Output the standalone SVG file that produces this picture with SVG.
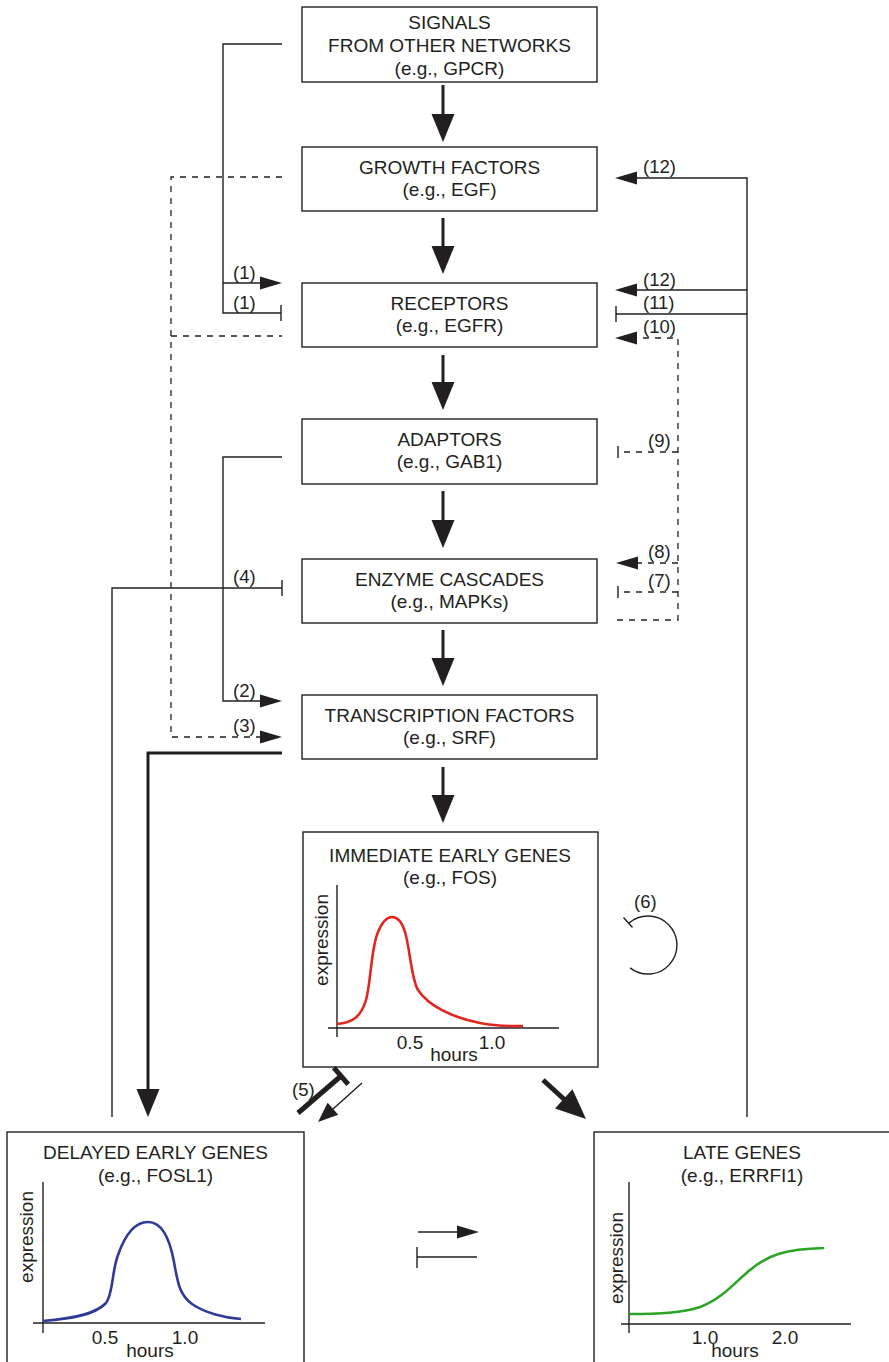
<svg xmlns="http://www.w3.org/2000/svg" xmlns:xlink="http://www.w3.org/1999/xlink" width="889" height="1362" viewBox="0 0 889 1362">
  <style>
    text { font-family: "Liberation Sans", Arial, sans-serif; fill: #231f20; }
    .t { font-size: 19px; text-anchor: middle; }
    .lbl { font-size: 18.5px; }
    .ax { font-size: 19px; text-anchor: middle; }
    .box { fill: #ffffff; stroke: #231f20; stroke-width: 1.4; }
    .ln { fill: none; stroke: #231f20; stroke-width: 1.4; }
    .dash { fill: none; stroke: #231f20; stroke-width: 1.3; stroke-dasharray: 6 6; }
    .thick { fill: none; stroke: #231f20; stroke-width: 3; }
    .heavy { fill: none; stroke: #231f20; stroke-width: 5; }
    .axis { fill: none; stroke: #231f20; stroke-width: 1.4; }
    .head { fill: #231f20; stroke: none; }
  </style>
  <defs>
    <!-- arrowheads pointing along +x with the tip at the origin -->
    <path id="headS" d="M0,0 L-22,-6.5 L-22,6.5 Z"/>
    <path id="headM" d="M0,0 L-20,-8 L-20,8 Z"/>
    <path id="headL" d="M0,0 L-28,-11.5 L-28,11.5 Z"/>
    <path id="headXL" d="M0,0 L-30,-13 L-30,13 Z"/>
  </defs>

  <!-- main cascade nodes -->
  <g id="node-signals">
    <rect class="box" x="302" y="7" width="295" height="75"/>
    <text class="t" x="449.5" y="29">SIGNALS</text>
    <text class="t" x="449.5" y="52">FROM OTHER NETWORKS</text>
    <text class="t" x="449.5" y="75">(e.g., GPCR)</text>
  </g>
  <g id="node-growth-factors">
    <rect class="box" x="302" y="147" width="295" height="64"/>
    <text class="t" x="449.5" y="173.5">GROWTH FACTORS</text>
    <text class="t" x="449.5" y="196">(e.g., EGF)</text>
  </g>
  <g id="node-receptors">
    <rect class="box" x="302" y="283" width="295" height="64"/>
    <text class="t" x="449.5" y="309.5">RECEPTORS</text>
    <text class="t" x="449.5" y="332">(e.g., EGFR)</text>
  </g>
  <g id="node-adaptors">
    <rect class="box" x="302" y="419" width="295" height="65"/>
    <text class="t" x="449.5" y="445.5">ADAPTORS</text>
    <text class="t" x="449.5" y="468">(e.g., GAB1)</text>
  </g>
  <g id="node-enzyme-cascades">
    <rect class="box" x="302" y="559" width="295" height="64"/>
    <text class="t" x="449.5" y="585.5">ENZYME CASCADES</text>
    <text class="t" x="449.5" y="608">(e.g., MAPKs)</text>
  </g>
  <g id="node-transcription-factors">
    <rect class="box" x="302" y="695" width="295" height="64"/>
    <text class="t" x="449.5" y="721.5">TRANSCRIPTION FACTORS</text>
    <text class="t" x="449.5" y="744">(e.g., SRF)</text>
  </g>

  <!-- immediate early genes with expression profile -->
  <g id="node-immediate-early-genes">
    <rect class="box" x="303" y="832" width="295" height="235"/>
    <text class="t" x="450" y="862">IMMEDIATE EARLY GENES</text>
    <text class="t" x="450" y="884">(e.g., FOS)</text>
    <path class="axis" d="M337,885 V1037 M328,1028 H559"/>
    <text class="ax" x="410" y="1049">0.5</text>
    <text class="ax" x="492" y="1049">1.0</text>
    <text class="ax" x="454" y="1061">hours</text>
    <text class="ax" transform="translate(328,940) rotate(-90)">expression</text>
    <path fill="none" stroke="#e0261f" stroke-width="2.6" d="M337,1024 C352,1023 361,1017 366,1000 C371,982 371,948 378,932 C383,920 388,917 392,917 C397,917 402,922 405,932 C410,948 411,978 418,990 C428,1005 450,1017 480,1023 C500,1027 515,1026 523,1026"/>
  </g>

  <!-- delayed early genes with expression profile -->
  <g id="node-delayed-early-genes">
    <rect class="box" x="7" y="1132" width="297" height="240"/>
    <text class="t" x="155.5" y="1159">DELAYED EARLY GENES</text>
    <text class="t" x="155.5" y="1182">(e.g., FOSL1)</text>
    <path class="axis" d="M43,1182 V1333 M33,1323 H265"/>
    <text class="ax" x="105" y="1344">0.5</text>
    <text class="ax" x="185" y="1344">1.0</text>
    <text class="ax" x="150" y="1357">hours</text>
    <text class="ax" transform="translate(33,1237) rotate(-90)">expression</text>
    <path fill="none" stroke="#2e3a97" stroke-width="2.6" d="M43,1321 C70,1319 95,1315 106,1303 C113,1295 112,1270 118,1255 C125,1235 135,1222 148,1222 C162,1222 170,1240 174,1262 C178,1285 180,1295 192,1304 C205,1313 225,1318 241,1319"/>
  </g>

  <!-- late genes with expression profile -->
  <g id="node-late-genes">
    <rect class="box" x="594" y="1132" width="310" height="240"/>
    <text class="t" x="742" y="1159">LATE GENES</text>
    <text class="t" x="742" y="1182">(e.g., ERRFI1)</text>
    <path class="axis" d="M629,1182 V1333 M621,1324 H851"/>
    <text class="ax" x="705" y="1344">1.0</text>
    <text class="ax" x="785" y="1344">2.0</text>
    <text class="ax" x="735" y="1357">hours</text>
    <text class="ax" transform="translate(623,1258) rotate(-90)">expression</text>
    <path fill="none" stroke="#2aa524" stroke-width="2.6" d="M629,1314 C660,1314 682,1313 700,1307 C722,1299 735,1282 750,1270 C768,1255 785,1249 824,1248"/>
  </g>

  <!-- connectors -->
  <g id="connectors">
    <!-- main downward cascade -->
    <path class="thick" d="M443,85 V115"/>
    <use href="#headL" class="head" transform="translate(443,142) rotate(90)"/>
    <path class="thick" d="M443,218 V247"/>
    <use href="#headL" class="head" transform="translate(443,274) rotate(90)"/>
    <path class="thick" d="M443,355 V383"/>
    <use href="#headL" class="head" transform="translate(443,410) rotate(90)"/>
    <path class="thick" d="M443,491 V521"/>
    <use href="#headL" class="head" transform="translate(443,548) rotate(90)"/>
    <path class="thick" d="M443,630 V659"/>
    <use href="#headL" class="head" transform="translate(443,686) rotate(90)"/>
    <path class="thick" d="M443,767 V796"/>
    <use href="#headL" class="head" transform="translate(443,823) rotate(90)"/>

    <!-- (1) signals from other networks onto receptors -->
    <path class="ln" d="M282,44 H223 V313 H281 M223,283 H261"/>
    <use href="#headS" class="head" transform="translate(282,283)"/>
    <path class="ln" d="M281,305 V321"/>
    <text class="lbl" x="233" y="279">(1)</text>
    <text class="lbl" x="233" y="309">(1)</text>

    <!-- (3) growth factors / receptors onto transcription factors -->
    <path class="dash" d="M282,177 H171 V737 H261 M171,336 H282"/>
    <use href="#headS" class="head" transform="translate(282,737)"/>
    <text class="lbl" x="233" y="732">(3)</text>

    <!-- (2) adaptors onto transcription factors -->
    <path class="ln" d="M282,457 H223 V701 H261"/>
    <use href="#headS" class="head" transform="translate(282,701)"/>
    <text class="lbl" x="233" y="697">(2)</text>

    <!-- (4) delayed early genes inhibit enzyme cascades -->
    <path class="ln" d="M112,1117 V588 H282 M282,580 V596"/>
    <text class="lbl" x="233" y="583">(4)</text>

    <!-- transcription factors drive delayed early genes -->
    <path class="thick" d="M282,753 H148 V1090"/>
    <use href="#headL" class="head" transform="translate(148,1117) rotate(90)"/>

    <!-- (12)/(11) late genes feedback -->
    <path class="ln" d="M747,1117 V178 H636 M747,290 H636 M747,314 H616 M616,306 V322"/>
    <use href="#headS" class="head" transform="translate(615,178) rotate(180)"/>
    <use href="#headS" class="head" transform="translate(615,290) rotate(180)"/>
    <text class="lbl" x="643" y="173">(12)</text>
    <text class="lbl" x="643" y="286">(12)</text>
    <text class="lbl" x="643" y="309">(11)</text>

    <!-- (7)-(10) dashed feedback from enzyme cascades -->
    <path class="dash" d="M617,620 H678 V338 H637 M678,452 H618 M678,563 H637 M678,592 H618"/>
    <path class="ln" d="M618,446 V458 M618,586 V598"/>
    <use href="#headS" class="head" transform="translate(615,338) rotate(180)"/>
    <use href="#headS" class="head" transform="translate(616,563) rotate(180)"/>
    <text class="lbl" x="643" y="333">(10)</text>
    <text class="lbl" x="648" y="447">(9)</text>
    <text class="lbl" x="648" y="558">(8)</text>
    <text class="lbl" x="648" y="587">(7)</text>

    <!-- (6) immediate early genes self-inhibition -->
    <path class="ln" d="M629,923.1 A29,29 0 1 1 630.1,967.9 M623.5,917.5 L632.5,927.5"/>
    <text class="lbl" x="634" y="908">(6)</text>

    <!-- (5) immediate early genes to delayed early genes -->
    <path class="heavy" d="M298,1113 L341,1076 M333.8,1067.7 L348.2,1084.3"/>
    <path class="ln" d="M362,1083 L333,1109"/>
    <use href="#headM" class="head" transform="translate(318,1122) rotate(138.4)"/>
    <text class="lbl" x="292" y="1096">(5)</text>

    <!-- immediate early genes to late genes -->
    <path class="heavy" d="M543,1080 L566,1101"/>
    <use href="#headXL" class="head" transform="translate(586,1119) rotate(42.1)"/>

    <!-- activation / inhibition key -->
    <path class="ln" d="M418,1232 H457"/>
    <use href="#headS" class="head" transform="translate(479,1232)"/>
    <path class="ln" d="M417,1257 H477 M417,1247 V1268"/>
  </g>
</svg>
